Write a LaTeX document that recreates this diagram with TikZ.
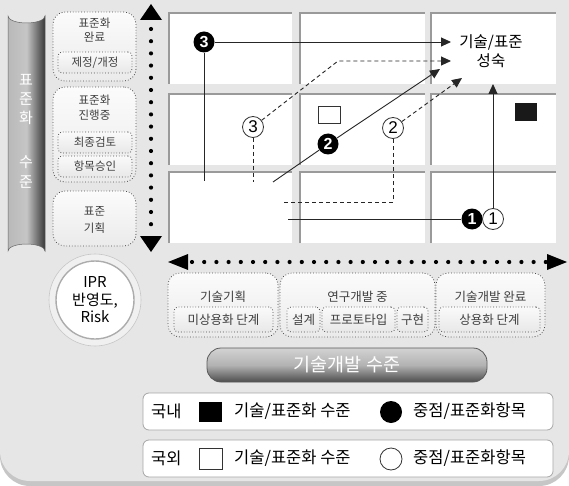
\documentclass[tikz,border=0pt]{standalone}
\usepackage{fontspec}
\setmainfont{Noto Sans CJK KR}
\newfontfamily\arialf{Liberation Sans}
\usetikzlibrary{arrows.meta}
\definecolor{bg}{HTML}{E6E6E6}
\definecolor{bgshadow}{HTML}{C6C6C6}
\definecolor{cellline}{HTML}{9A9A9A}
\begin{document}
\begin{tikzpicture}[x=1pt,y=-1pt,
  cellborder/.style={draw=cellline,line width=1.3pt},
  dbox/.style={draw=black!70,dotted,line width=0.8pt,rounded corners=12pt,top color=gray!3,bottom color=gray!16,inner sep=0pt},
  ibox/.style={draw=black!70,dotted,line width=0.8pt,rounded corners=4pt,top color=gray!4,bottom color=gray!18,inner sep=0pt},
  small/.style={font=\fontsize{11.5}{12}\selectfont,text=black!75},
  bsmall/.style={font=\fontsize{12.5}{13}\selectfont,text=black!75},
  numb/.style={circle,fill=black,text=white,inner sep=0pt,minimum size=21pt,font=\arialf\bfseries\fontsize{16}{16}\selectfont},
  numw/.style={circle,draw=black!80,fill=white,line width=0.8pt,inner sep=0pt,minimum size=21pt,font=\arialf\fontsize{17}{17}\selectfont},
  conn/.style={line width=0.9pt,draw=black!85},
  dconn/.style={line width=0.9pt,draw=black!85,dash pattern=on 4pt off 3pt},
  tip/.style={-{Triangle[length=10pt,width=9pt]}},
  bigdots/.style={line width=4.2pt,line cap=round,dash pattern=on 0pt off 12.2pt},
  legbox/.style={draw=gray!70,fill=white,rounded corners=6pt,line width=0.8pt},
  legtext/.style={font=\fontsize{16.5}{17}\selectfont,anchor=west,inner sep=0pt}
]
\useasboundingbox (0,0) rectangle (569,486);
% background
\fill[white] (0,0) rectangle (569,486);
\fill[bgshadow] (0,0) [rounded corners=30pt] -- (0,486) -- (569,486) [sharp corners] -- (569,0) -- cycle;
\fill[bg] (0,0) [rounded corners=30pt] -- (0,481) -- (569,481) [sharp corners] -- (569,0) -- cycle;

% grid cells
\foreach \xa/\xb in {169/292,300/425,431/556}{
  \foreach \ya/\yb in {13/84,94/165,172/243}{
    \fill[white] (\xa,\ya) rectangle (\xb,\yb);
    \draw[cellborder] (\xa,\yb) -- (\xa,\ya) -- (\xb,\ya);
  }
}

% cylinder
\shade[left color=gray!55,right color=black!78,middle color=gray!45,draw=black!60,line width=0.5pt]
  (8,16) arc[start angle=180,end angle=0,x radius=18.5,y radius=7] -- (45,251)
  arc[start angle=0,end angle=-180,x radius=18.5,y radius=7] -- cycle;
\foreach \t/\yy in {표/80,준/99,화/118,수/162,준/182}
  \node[text=white,font=\fontsize{15}{15}\selectfont] at (26,\yy) {\t};

% left column boxes
\node[dbox,minimum width=83pt,minimum height=69pt] (s1) at (94.5,46.5) {};
\node[small] at (94.5,23) {표준화};
\node[small] at (94.5,37) {완료};
\node[ibox,minimum width=74pt,minimum height=21pt,small] (s1a) at (95,62.5) {제정/개정};

\node[dbox,minimum width=83pt,minimum height=95pt] (s2) at (94.5,134.5) {};
\node[small] at (94.5,100) {표준화};
\node[small] at (94.5,115) {진행중};
\node[ibox,minimum width=74pt,minimum height=21pt,small] (s2a) at (95,142.5) {최종검토};
\node[ibox,minimum width=74pt,minimum height=21pt,small] (s2b) at (95,166.5) {항목승인};

\node[dbox,minimum width=83pt,minimum height=55pt] (s3) at (94.5,218.5) {};
\node[small] at (94.5,211) {표준};
\node[small] at (94.5,228) {기획};

% vertical dotted arrow
\draw[bigdots] (151,29) -- (151,234);
\fill (140,20) -- (151,4) -- (162,20) -- cycle;
\fill (140,236) -- (151,252) -- (162,236) -- cycle;

% horizontal dotted arrow
\draw[bigdots] (192,262) -- (549,262);
\fill (188,254) -- (168,262) -- (188,270) -- cycle;
\fill (547,254) -- (567,262) -- (547,270) -- cycle;

% IPR circle
\fill[gray!12,draw=gray!45,line width=0.6pt] (95,300) circle[radius=46];
\node[circle,draw=gray!65,line width=1.4pt,fill=white,minimum size=78pt,inner sep=0pt,align=center,font=\fontsize{15}{17.5}\selectfont] (ipr) at (95,300) {IPR\\반영도,\\Risk};

% bottom boxes
\node[dbox,minimum width=110pt,minimum height=64pt] (t1) at (223,305) {};
\node[bsmall] at (223,297) {기술기획};
\node[ibox,minimum width=99pt,minimum height=25pt,bsmall] (t1a) at (223.5,319.5) {미상용화 단계};

\node[dbox,minimum width=155pt,minimum height=64pt] (t2) at (357.5,305) {};
\node[bsmall] at (357.5,297) {연구개발 중};
\node[ibox,minimum width=33pt,minimum height=25pt,bsmall] (t2a) at (303.5,319.5) {설계};
\node[ibox,minimum width=73pt,minimum height=25pt,bsmall] (t2b) at (358.5,319.5) {프로토타입};
\node[ibox,minimum width=31pt,minimum height=25pt,bsmall] (t2c) at (412.5,319.5) {구현};

\node[dbox,minimum width=109pt,minimum height=64pt] (t3) at (490.5,305) {};
\node[bsmall] at (490.5,297) {기술개발 완료};
\node[ibox,minimum width=101pt,minimum height=25pt,bsmall] (t3a) at (489.5,319.5) {상용화 단계};

% bar
\node[rounded corners=14pt,minimum width=280pt,minimum height=34pt,draw=black!65,line width=0.8pt,
  top color=gray!35,bottom color=black!70,middle color=gray!60,text=white,
  font=\fontsize{18.5}{18.5}\selectfont] (bar) at (347,365) {기술개발 수준};

% legend
\draw[legbox] (143,393) rectangle (553,430);
\draw[legbox] (143,440) rectangle (553,477);
\node[legtext] at (151,411.5) {국내};
\fill[black] (199,402) rectangle (222,422);
\node[legtext] at (234,411.5) {기술/표준화 수준};
\fill[black] (391,412) circle[radius=11];
\node[legtext] at (413,411.5) {중점/표준화항목};
\node[legtext] at (151,458.5) {국외};
\draw[black!80,line width=0.8pt,fill=white] (199,448) rectangle (222,469);
\node[legtext] at (234,458.5) {기술/표준화 수준};
\draw[black!80,line width=0.8pt,fill=white] (391,459) circle[radius=11];
\node[legtext] at (413,458.5) {중점/표준화항목};

% squares in grid
\draw[black!80,line width=0.8pt,fill=white] (318,106) rectangle (340,123);
\fill[black!90] (515,103) rectangle (537,121);

% target label
\node[align=center,font=\fontsize{15.5}{19}\selectfont] (goal) at (491,51) {기술/표준\\성숙};

% numbered markers
\node[numb] (n3b) at (204,42) {3};
\node[numw] (n3w) at (253,127) {3};
\node[numb] (n2b) at (328,144) {2};
\node[numw] (n2w) at (393,128) {2};
\node[numb] (n1b) at (472,219) {1};
\node[numw] (n1w) at (493,219) {1};

% free ends
\coordinate (e1) at (204,181);
\coordinate (e2) at (253,182);
\coordinate (e3) at (273,182);
\coordinate (e4) at (284,202);
\coordinate (e5) at (288,219);
\coordinate (k1) at (338,61);
\coordinate (k2) at (393,202);
\coordinate (a1) at (451,42);
\coordinate (a2) at (451,61);
\coordinate (a3) at (440,69);
\coordinate (a4) at (462,78);
\coordinate (a5) at (493,84);

% connectors
\draw[conn,tip] (n3b) -- (a1);
\draw[conn] (n3b) -- (e1);
\draw[dconn] (n3w) -- (e2);
\draw[dconn,tip] (n3w) -- (k1) -- (a2);
\draw[conn] (e3) -- (n2b);
\draw[conn,tip] (n2b) -- (a3);
\draw[dconn] (e4) -- (k2) -- (n2w);
\draw[dconn,tip] (n2w) -- (a4);
\draw[conn] (e5) -- (n1b);
\draw[conn,tip] (n1w) -- (a5);
\end{tikzpicture}
\end{document}
